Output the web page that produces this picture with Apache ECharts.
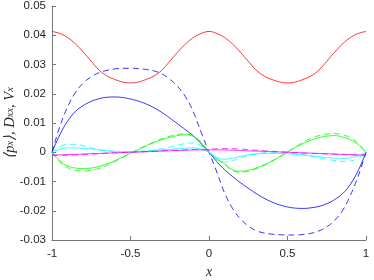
<!DOCTYPE html>
<html><head><meta charset="utf-8">
<script src="https://cdn.jsdelivr.net/npm/echarts@6/dist/echarts.min.js"></script>
<style>html,body{margin:0;padding:0;background:#fff}#c{width:374px;height:280px}</style>
</head><body><div id="c"></div>
<script>
var xs = [-1,-0.95,-0.9,-0.85,-0.8,-0.75,-0.7,-0.65,-0.6,-0.55,-0.5,-0.45,-0.4,-0.35,-0.3,-0.25,-0.2,-0.15,-0.1,-0.05,0,
0.05,0.1,0.15,0.2,0.25,0.3,0.35,0.4,0.45,0.5,0.55,0.6,0.65,0.7,0.75,0.8,0.85,0.9,0.95,1];
var xTicks = [-1,-0.5,0,0.5,1];
var yTicks = [-0.03,-0.02,-0.01,0,0.01,0.02,0.03,0.04,0.05];

var redSolid = [.0413,.0406,.0392,.0370,.0342,.0311,.0281,.0261,.0249,.0240,.0237,.0240,.0249,.0261,.0281,.0311,.0342,.0370,.0392,.0406,.0413,
.0406,.0392,.0370,.0342,.0311,.0281,.0261,.0249,.0240,.0237,.0240,.0249,.0261,.0281,.0311,.0342,.0370,.0392,.0406,.0413];
var blueSolid = [0,.0060,.0107,.0140,.0160,.0174,.0183,.0188,.0189,.0187,.0182,.0175,.0165,.0152,.0136,.0117,.0097,.0077,.0056,.0029,0,
-.0032,-.0060,-.0083,-.0104,-.0123,-.0141,-.0157,-.0170,-.0180,-.0187,-.0191,-.0192,-.0190,-.0185,-.0176,-.0162,-.0142,-.0110,-.0063,0];
var blueDashed = [0,.0088,.0156,.0205,.0237,.0258,.0272,.0280,.0285,.0287,.0287,.0286,.0283,.0278,.0268,.0250,.0225,.0190,.0138,.0068,0,
-.0068,-.0140,-.0192,-.0228,-.0252,-.0268,-.0276,-.0280,-.0282,-.0283,-.0283,-.0281,-.0277,-.0269,-.0255,-.0233,-.0200,-.0148,-.0082,0];
var greenSolid = [0,-.0030,-.0047,-.0054,-.0056,-.0054,-.0049,-.0040,-.0029,-.0016,-.0003,.0010,.0022,.0033,.0043,.0051,.0057,.0060,.0054,.0033,0,
-.0022,-.0040,-.0060,-.0065,-.0062,-.0054,-.0043,-.0030,-.0015,.0001,.0016,.0030,.0041,.0050,.0055,.0057,.0052,.0043,.0026,0];
var greenDashed = [0,-.0033,-.0053,-.0062,-.0064,-.0062,-.0055,-.0045,-.0032,-.0018,-.0004,.0010,.0023,.0035,.0046,.0055,.0061,.0063,.0056,.0034,0,
-.0023,-.0042,-.0063,-.0068,-.0065,-.0057,-.0045,-.0031,-.0016,.0001,.0018,.0034,.0047,.0057,.0062,.0064,.0060,.0050,.0030,0];
var cyanSolid = [0,.0010,.0015,.0015,.0013,.0011,.0008,.0006,.0004,.0002,.0002,.0003,.0004,.0006,.0008,.0010,.0012,.0014,.0015,.0010,0,
-.0018,-.0024,-.0020,-.0014,-.0009,-.0006,-.0004,-.0004,-.0004,-.0005,-.0007,-.0009,-.0012,-.0015,-.0018,-.0020,-.0021,-.0019,-.0012,0];
var cyanDashed = [0,.0020,.0027,.0027,.0022,.0015,.0009,.0004,.0001,-.0001,-.0001,.0000,.0003,.0007,.0012,.0018,.0024,.0030,.0032,.0022,0,
-.0025,-.0033,-.0028,-.0020,-.0012,-.0006,-.0002,.0000,.0000,-.0002,-.0005,-.0009,-.0014,-.0019,-.0024,-.0028,-.0031,-.0030,-.0020,0];
var magentaSolid = [-.0009,-.0009,-.0008,-.0007,-.0006,-.0005,-.0004,-.0003,-.0002,-.0001,.0000,.0001,.0002,.0003,.0004,.0005,.0006,.0007,.0008,.0008,.0008,
.0008,.0008,.0007,.0006,.0005,.0004,.0003,.0002,.0001,.0000,-.0001,-.0002,-.0003,-.0004,-.0005,-.0006,-.0007,-.0008,-.0009,-.0009];
var magentaDashed = [-.0011,-.0011,-.0010,-.0009,-.0008,-.0006,-.0005,-.0003,-.0002,-.0001,.0000,.0001,.0002,.0003,.0005,.0006,.0007,.0008,.0009,.0010,.0010,
.0012,.0013,.0012,.0011,.0009,.0007,.0005,.0003,.0002,.0000,-.0001,-.0003,-.0004,-.0005,-.0006,-.0007,-.0008,-.0009,-.0010,-.0011];
var yTitle = '{a|⟨p}{s|x}{a|⟩, D}{s|xx}{a|, V}{s|x}';

function pts(v){ return xs.map(function(x,i){ return [x, v[i]]; }); }
function line(v, color, dashed){
  return {type:'line', data:pts(v), smooth:0.4, symbol:'none', silent:true,
    lineStyle:{color:color, width:1, opacity:0.8, type: dashed ? [6,4] : 'solid'}};
}
var chart = echarts.init(document.getElementById('c'), null, {renderer:'canvas'});
var axisCol = '#777777', labCol = '#262626';
chart.setOption({
  animation:false,
  grid:{left:52, right:8, top:6, bottom:40, containLabel:false, outerBoundsMode:'none'},
  graphic:[{type:'text', x:10, y:123, rotation:Math.PI/2, silent:true,
    style:{text:yTitle, align:'center', verticalAlign:'middle', fill:labCol,
      rich:{
        a:{fontFamily:'Liberation Serif', fontStyle:'italic', fontSize:14.5, fill:labCol, lineHeight:21},
        s:{fontFamily:'Liberation Serif', fontStyle:'italic', fontSize:10.5, fill:labCol, lineHeight:14}
      }}}],
  xAxis:{type:'value', min:xTicks[0], max:xTicks[xTicks.length-1], interval:0.5,
    axisLine:{onZero:false, lineStyle:{color:axisCol}}, axisTick:{inside:true, length:4, lineStyle:{color:axisCol}},
    splitLine:{show:false},
    axisLabel:{color:labCol, fontSize:11.5, fontFamily:'Liberation Sans', margin:8},
    name:'x', nameLocation:'middle', nameGap:24,
    nameTextStyle:{fontFamily:'Liberation Serif', fontStyle:'italic', fontSize:14, color:labCol}},
  yAxis:{type:'value', min:yTicks[0], max:yTicks[yTicks.length-1], interval:0.01,
    axisLine:{show:true, onZero:false, lineStyle:{color:axisCol}}, axisTick:{show:true, inside:true, length:4, lineStyle:{color:axisCol}},
    splitLine:{show:false},
    axisLabel:{color:labCol, fontSize:11.5, fontFamily:'Liberation Sans', margin:6}},
  series:[
    line(redSolid,'#ff0000',false),
    line(blueSolid,'#0000ff',false),
    line(blueDashed,'#0000ff',true),
    line(greenSolid,'#00ff00',false),
    line(greenDashed,'#00ff00',true),
    line(cyanSolid,'#00ffff',false),
    line(cyanDashed,'#00ffff',true),
    line(magentaSolid,'#ff00ff',false),
    line(magentaDashed,'#ff00ff',true)
  ]
});
</script></body></html>
